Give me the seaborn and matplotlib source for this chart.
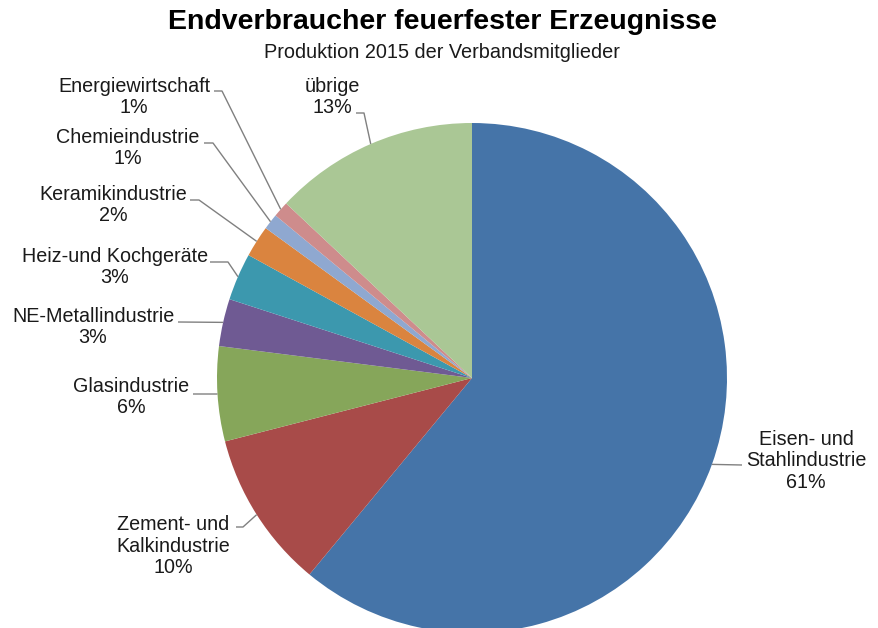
import numpy as np
import matplotlib
matplotlib.use("Agg")
import matplotlib.pyplot as plt
import seaborn as sns

# Endverbraucher feuerfester Erzeugnisse, Anteile 2015 (in %)
categories = [
    "Eisen- und\nStahlindustrie",
    "Zement- und\nKalkindustrie",
    "Glasindustrie",
    "NE-Metallindustrie",
    "Heiz-und Kochgeräte",
    "Keramikindustrie",
    "Chemieindustrie",
    "Energiewirtschaft",
    "übrige",
]
shares = [61, 10, 6, 3, 3, 2, 1, 1, 13]
colors = ["#4574A8", "#A84B49", "#86A65A", "#6F5A93", "#3C98AE",
          "#DA843F", "#8FA8D0", "#CE8C8C", "#AAC795"]

sns.set_theme(style="white")
plt.rcParams["font.family"] = ["Liberation Sans", "DejaVu Sans"]

W, H = 879, 628
cx, cy, R = 472, 378, 255  # pie centre and radius in pixels

fig = plt.figure(figsize=(W / 100, H / 100), dpi=100)
ax = fig.add_axes([0, 0, 1, 1])

ax.pie(shares, colors=colors, startangle=90, counterclock=False,
       radius=1.0, center=(0, 0), wedgeprops=dict(linewidth=0))

# one data unit = R pixels in both directions
ax.set_aspect("auto")
ax.set_xlim(-cx / R, (W - cx) / R)
ax.set_ylim(-(H - cy) / R, cy / R)
ax.axis("off")


def px(x, y):
    """pixel position -> data coordinates"""
    return (x - cx) / R, (cy - y) / R


# label centre (px), leader elbow (px) and leader end at the text (px)
label_pos = [(806, 461), (173, 546), (131, 397), (93, 327), (115, 267),
             (113, 205), (128, 148), (134, 97), (332, 97)]
elbow_pos = [(742, 465), (243, 527), (193, 394), (178, 322), (228, 262),
             (199, 200), (213, 143), (222, 91), (364, 113)]
text_end = [(742, 465), (236, 527), (193, 394), (178, 322), (210, 262),
            (190, 200), (204, 143), (214, 91), (356, 113)]

line_kw = dict(color="#808080", lw=1.0, solid_capstyle="butt")
cum = np.cumsum([0] + shares[:-1])
total = sum(shares)
for i, (name, val) in enumerate(zip(categories, shares)):
    mid = (cum[i] + val / 2) / total * 2 * np.pi
    rim = (np.sin(mid), np.cos(mid))
    ex, ey = px(*elbow_pos[i])
    tx, ty = px(*text_end[i])
    ax.plot([rim[0], ex, tx], [rim[1], ey, ty], **line_kw)
    lx, ly = px(*label_pos[i])
    ax.text(lx, ly, f"{name}\n{val}%", ha="center", va="center",
            fontsize=14.2, color="#1a1a1a", linespacing=1.18)

fig.text(443 / W, 1 - 22 / H, "Endverbraucher feuerfester Erzeugnisse",
         ha="center", va="center", fontsize=20.5, fontweight="bold",
         color="#000000")
fig.text(442 / W, 1 - 52 / H, "Produktion 2015 der Verbandsmitglieder",
         ha="center", va="center", fontsize=14.3, color="#1a1a1a")

fig.savefig("out.png", dpi=100, facecolor="white")
